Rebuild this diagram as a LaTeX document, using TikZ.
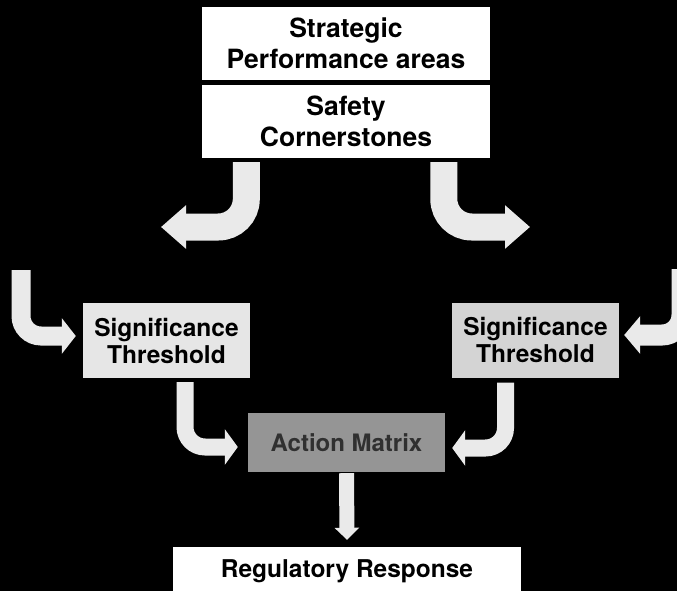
\documentclass[tikz,border=0pt]{standalone}
\usepackage{fontspec}
\setmainfont{TeX Gyre Heros}
\usetikzlibrary{arrows.meta,calc}
\definecolor{arrowc}{HTML}{EAEAEA}
\definecolor{sigl}{HTML}{E6E6E6}
\definecolor{sigr}{HTML}{D4D4D4}
\definecolor{actfill}{HTML}{959595}
\definecolor{acttext}{HTML}{303030}
\tikzset{
  topbox/.style={fill=white, minimum width=288pt, minimum height=73pt, inner sep=0pt, align=center,
    font=\fontsize{26.5}{31}\selectfont\bfseries},
  sigbox/.style={minimum width=167pt, minimum height=75pt, inner sep=0pt, align=center,
    font=\fontsize{24.5}{27}\selectfont\bfseries},
  bigarrow/.style={draw=arrowc, line width=27pt, rounded corners=28pt,
    -{Triangle[width=42pt,length=25pt]}},
  midarrow/.style={draw=arrowc, line width=19pt, rounded corners=20pt,
    -{Triangle[width=35pt,length=14pt]}},
}
\begin{document}
\begin{tikzpicture}[x=1pt,y=-1pt]
\fill[black] (0,0) rectangle (677,591);
\useasboundingbox (0,0) rectangle (677,591);
\clip (0,0) rectangle (677,591);
% boxes
\node[topbox] (spa) at (346,43.5) {Strategic\\Performance areas};
\node[topbox] (sc) at (346,121.5) {Safety\\Cornerstones};
\node[sigbox, fill=sigl] (sigL) at (166.5,340.5) {Significance\\Threshold};
\node[sigbox, fill=sigr] (sigR) at (535.5,340) {Significance\\Threshold};
\node[fill=actfill, text=acttext, minimum width=197pt, minimum height=59pt, inner sep=0pt,
  font=\fontsize{24}{27}\selectfont\bfseries] (am) at (346.5,442.5) {Action Matrix};
\node[fill=white, minimum width=348pt, minimum height=44pt, inner sep=0pt] (rr) at (347,569) {};
\node[font=\fontsize{24.5}{27}\selectfont\bfseries, inner sep=0pt, anchor=base] (rrt) at (347,577) {Regulatory Response};
% free ends
\coordinate (tlEnd) at (161,227);
\coordinate (trEnd) at (530,227);
\coordinate (flStart) at (21,270);
\coordinate (frStart) at (682,269);
% top arrows
\draw[bigarrow] ($(sc.south west)+(44.5,4)$) |- (tlEnd);
\draw[bigarrow] ($(sc.south west)+(242,4)$) |- (trEnd);
% outer arrows
\draw[midarrow] (flStart) |- ($(sigL.west)+(-7,-4.5)$);
\draw[midarrow, line width=21pt, -{Triangle[width=37pt,length=16pt]}] (frStart) |- ($(sigR.east)+(5,-5)$);
% lower arrows
\draw[midarrow, line width=17pt, -{Triangle[width=35pt,length=13pt]}] ($(sigL.south)+(18.5,4)$) |- ($(am.west)+(-10,4.5)$);
\draw[midarrow, line width=17pt, -{Triangle[width=35pt,length=13pt]}] ($(sigR.south)+(-30,5)$) |- ($(am.east)+(7,5.5)$);
% down arrow
\draw[draw=arrowc, line width=15pt, -{Triangle[width=24pt,length=12pt]}] ($(am.south)+(0,1)$) -- ($(rr.north)+(0,-7)$);
\end{tikzpicture}
\end{document}
